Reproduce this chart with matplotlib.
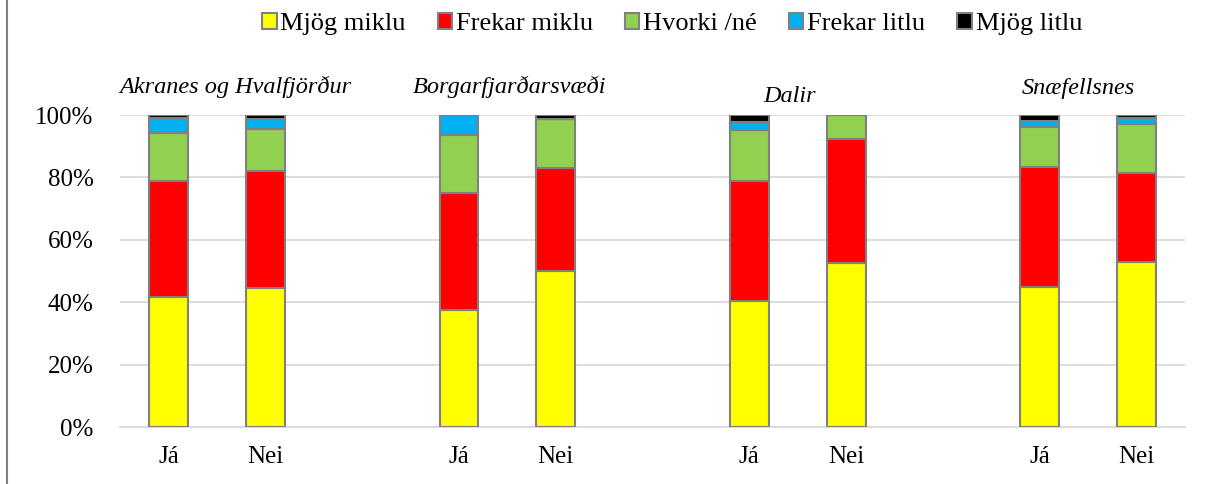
import numpy as np
import matplotlib.pyplot as plt
from matplotlib.lines import Line2D

plt.switch_backend("Agg")
plt.rcParams["font.family"] = ["Liberation Serif", "DejaVu Serif"]

# data (percent)
regions = ["Akranes og Hvalfjörður", "Borgarfjarðarsvæði", "Dalir", "Snæfellsnes"]
answers = ["Já", "Nei"]
series = ["Mjög miklu", "Frekar miklu", "Hvorki /né", "Frekar litlu", "Mjög litlu"]
colors = ["#FFFF00", "#FF0000", "#92D050", "#00B0F0", "#000000"]

mjog_miklu   = [41.8, 44.4, 37.5, 49.9, 40.3, 52.5, 44.8, 52.9]
frekar_miklu = [37.2, 37.5, 37.6, 33.2, 38.4, 39.9, 38.4, 28.4]
hvorki       = [15.2, 13.5, 18.6, 15.6, 16.4,  7.6, 13.1, 15.8]
frekar_litlu = [ 4.8,  3.4,  6.3,  0.0,  2.6,  0.0,  1.9,  1.9]
mjog_litlu   = [ 1.0,  1.2,  0.0,  1.3,  2.3,  0.0,  1.8,  1.0]

values = [mjog_miklu, frekar_miklu, hvorki, frekar_litlu, mjog_litlu]

# bar slots: two bars per region, one empty slot between regions
pos = [g * 3 + i for g in range(len(regions)) for i in range(len(answers))]
labels = [a for g in regions for a in answers]

fig = plt.figure(figsize=(12.13, 4.84), dpi=100)
ax = fig.add_axes([120 / 1213, 57 / 484, 1065 / 1213, 312 / 484])

bottom = np.zeros(len(pos))
handles = []
for vals, name, col in zip(values, series, colors):
    b = ax.bar(pos, vals, width=0.4, bottom=bottom, color=col,
               edgecolor="#808080", linewidth=1.5, label=name, zorder=3)
    bottom += np.array(vals)
    handles.append(b)

ax.set_xlim(-0.5, 10.5)
ax.set_ylim(0, 100)
ax.set_yticks(np.arange(0, 101, 20))
ax.set_yticklabels([f"{v}%" for v in range(0, 101, 20)], fontsize=18)
ax.set_xticks(pos)
ax.set_xticklabels(labels, fontsize=18)
ax.tick_params(length=0)
ax.tick_params(axis="x", pad=14)
ax.tick_params(axis="y", pad=19)
ax.grid(axis="y", color="#D9D9D9", linewidth=1.3, zorder=0)
for s in ["top", "right", "left"]:
    ax.spines[s].set_visible(False)
ax.spines["bottom"].set_color("#D9D9D9")
ax.spines["bottom"].set_linewidth(1.3)

# region titles
title_x = [235, 510, 790, 1078]
title_y = [87, 87, 97, 88]
for t, x, y in zip(regions, title_x, title_y):
    fig.text(x / 1213, 1 - y / 484, t, fontsize=17.5, style="italic",
             ha="center", va="center")

fig.legend(handles=handles, labels=series, loc="center", ncol=5,
           bbox_to_anchor=(672 / 1213, 1 - 24 / 484), frameon=False,
           fontsize=19, handlelength=0.55, handleheight=0.55,
           handletextpad=0.15, columnspacing=1.2)

fig.add_artist(Line2D([7 / 1213, 7 / 1213], [0, 1], color="#808080", linewidth=1.5))

plt.savefig("out.png", dpi=100)
